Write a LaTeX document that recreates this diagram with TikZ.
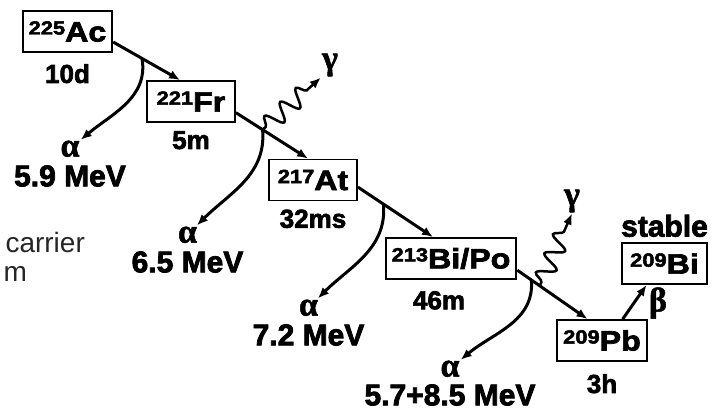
\documentclass[tikz,border=0pt]{standalone}
\usepackage{fontspec}
\setmainfont{Liberation Sans}
\newfontfamily\heavy[FakeBold=2.5]{Liberation Sans Bold}
\newfontfamily\boxfont[FakeStretch=1.15,FakeBold=2.5]{Liberation Sans Bold}
\newfontfamily\grk[FakeBold=1.5]{Liberation Serif Bold}
\usetikzlibrary{arrows.meta,positioning,decorations.pathmorphing}
\newcommand{\iso}[2]{\raisebox{7pt}{\fontsize{19}{19}\selectfont #1}#2}
\tikzstyle{nuc}=[rectangle,draw,line width=1.8pt,minimum width=88pt,minimum height=41pt,inner xsep=6pt,font=\boxfont\fontsize{28}{28}\selectfont]
\tikzstyle{life}=[inner sep=0pt,font=\heavy\fontsize{26}{26}\selectfont]
\tikzstyle{energy}=[inner sep=0pt,font=\heavy\fontsize{30}{30}\selectfont]
\tikzstyle{greek}=[inner sep=1pt,font=\grk\fontsize{34}{34}\selectfont]
\tikzstyle{decay}=[-{Latex[length=11pt,width=9pt]},line width=3pt]
\tikzstyle{gam}=[decay,line width=2.5pt,decorate,decoration={snake,amplitude=9pt,segment length=21pt,pre length=4pt,post length=10pt}]

\begin{document}
\begin{tikzpicture}[x=1pt,y=1pt]
\useasboundingbox (0,0) rectangle (714,-412);
% nuclides
\node[nuc] (Ac) at (67.5,-31.5) {\iso{225}{Ac}};
\node[nuc] (Fr) at (191,-101.5) {\iso{221}{Fr}};
\node[nuc] (At) at (313,-180) {\iso{217}{At}};
\node[nuc] (BiPo) at (451,-258.5) {\iso{213}{Bi/Po}};
\node[nuc] (Pb) at (602,-340.5) {\iso{209}{Pb}};
\node[nuc,minimum width=85pt] (Bi) at (664.5,-263.5) {\iso{209}{Bi}};
% half-lives
\node[life, below=11pt of Ac] (tAc) {10d};
\node[life, below=8pt of Fr] (tFr) {5m};
\node[life, below=8pt of At] (tAt) {32ms};
\node[life, below=11pt of BiPo, xshift=-12pt] (tBiPo) {46m};
\node[life, below=12pt of Pb] (tPb) {3h};
\node[energy, above=5pt of Bi] (stab) {stable};
% alpha energies
\node[energy] (e1) at (70,-176) {5.9 MeV};
\node[energy] (e2) at (187.5,-262) {6.5 MeV};
\node[energy] (e3) at (308.5,-335) {7.2 MeV};
\node[energy] (e4) at (450,-395) {5.7+8.5 MeV};
\node[greek, above=7pt of e1] (a1) {α};
\node[greek, above=7pt of e2] (a2) {α};
\node[greek, above=7pt of e3] (a3) {α};
\node[greek, above=6pt of e4] (a4) {α};
\node[greek] (g1) at (330,-65) {γ};
\node[greek] (g2) at (572,-201) {γ};
\node[greek] (b1) at (658,-303) {β};
\node[anchor=west, text=black!85, font=\fontsize{28}{28}\selectfont] (car) at (2,-242) {carrier};
\node[anchor=west, text=black!85, font=\fontsize{28}{28}\selectfont] (m) at (0,-274) {m};
% decay chain
\draw[decay] (Ac.-13) -- coordinate[pos=0.43] (s1) (Fr.117);
\draw[decay] (Fr.-14) -- coordinate[pos=0.37] (s2) (At.103);
\draw[decay] (At.-9) -- coordinate[pos=0.34] (s3) (BiPo.130);
\draw[decay] (BiPo.-10) -- coordinate[pos=0.2] (s4) coordinate[pos=0.32] (s5) (Pb.124);
\draw[decay] (Pb.46) -- (Bi.230);
% alpha branches
\draw[decay] (s1) to[out=-80,in=40] (a1);
\draw[decay] (s2) to[out=-85,in=45] (a2);
\draw[decay] (s3) to[out=-85,in=45] (a3);
\draw[decay] (s4) to[out=-85,in=40] (a4);
% gammas
\draw[gam] (s2) -- (g1.south west);
\draw[gam] (s5) -- (g2.south);
\end{tikzpicture}
\end{document}
